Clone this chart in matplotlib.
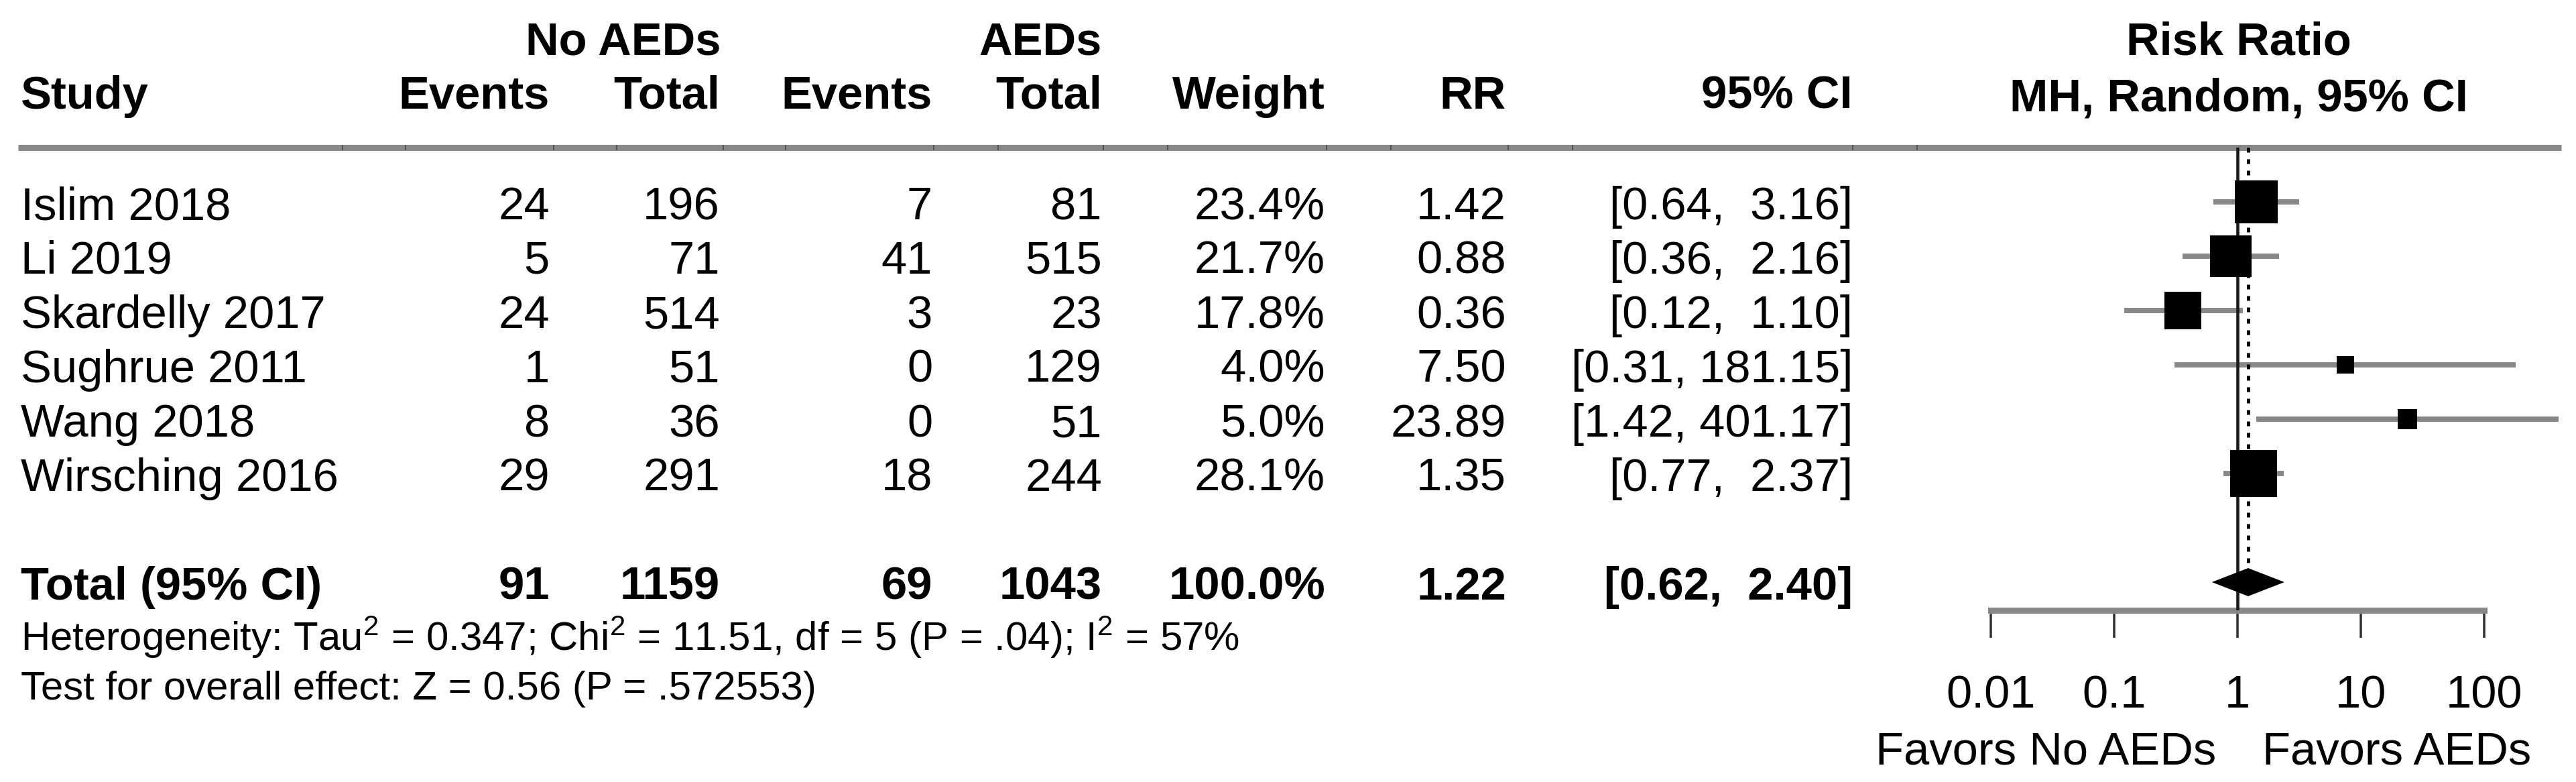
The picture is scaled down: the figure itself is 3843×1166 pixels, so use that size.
import matplotlib.pyplot as plt
import numpy as np
from matplotlib.ticker import NullLocator

plt.rcParams['font.family'] = ['Liberation Sans', 'DejaVu Sans']
plt.rcParams['mathtext.fontset'] = 'custom'
plt.rcParams['mathtext.rm'] = 'Liberation Sans'
plt.rcParams['mathtext.it'] = 'Liberation Sans:italic'
plt.rcParams['mathtext.bf'] = 'Liberation Sans:bold'

# data of the forest plot
studies = ["Islim 2018", "Li 2019", "Skardelly 2017", "Sughrue 2011", "Wang 2018", "Wirsching 2016"]
ev_no = [24, 5, 24, 1, 8, 29]
tot_no = [196, 71, 514, 51, 36, 291]
ev_aed = [7, 41, 3, 0, 0, 18]
tot_aed = [81, 515, 23, 129, 51, 244]
weight = [23.4, 21.7, 17.8, 4.0, 5.0, 28.1]
rr = [1.42, 0.88, 0.36, 7.50, 23.89, 1.35]
ci_lo = [0.64, 0.36, 0.12, 0.31, 1.42, 0.77]
ci_hi = [3.16, 2.16, 1.10, 181.15, 401.17, 2.37]

tot_label = "Total (95% CI)"
tot_counts = [91, 1159, 69, 1043]
tot_weight = 100.0
tot_rr, tot_lo, tot_hi = 1.22, 0.62, 2.40

het_text = "Heterogeneity: Tau$^{2}$ = 0.347; Chi$^{2}$ = 11.51, df = 5 (P = .04); I$^{2}$ = 57%"
test_text = "Test for overall effect: Z = 0.56 (P = .572553)"

col_names = ["Events", "Total", "Events", "Total", "Weight", "RR", "95% CI"]
ticks = [0.01, 0.1, 1, 10, 100]
tick_labels = ["0.01", "0.1", "1", "10", "100"]

def ci_str(lo, hi):
    h = f"{hi:.2f}"
    pad = " " if len(h) < 6 else ""
    return f"[{lo:.2f}, {pad}{h}]"

# layout (pixels)
W, H = 3843, 1166
row0, step = 301, 81
total_i = 7
fs = 16.5
fs_small = 14.4
col_right = [820, 1074, 1391, 1644, 1977, 2247, 2764]
seps = [511, 605, 826, 920, 1079, 1172, 1393, 1489, 1646, 1742, 1979, 2075, 2250, 2346, 2764, 2860]
gray = '#888888'

def row_y(i):
    return row0 + step * i

fig = plt.figure(figsize=(W / 300, H / 300), dpi=300)
ax = fig.add_axes([0, 0, 1, 1])
ax.set_xlim(0, W)
ax.set_ylim(H, 0)
ax.axis('off')

# headers
ax.text(1076, 81, "No AEDs", ha='right', va='baseline', weight='bold', fontsize=fs)
ax.text(1644, 81, "AEDs", ha='right', va='baseline', weight='bold', fontsize=fs)
ax.text(3340, 82, "Risk Ratio", ha='center', va='baseline', weight='bold', fontsize=fs)
ax.text(31, 162, "Study", ha='left', va='baseline', weight='bold', fontsize=fs)
for x, name in zip(col_right, col_names):
    ax.text(x, 162, name, ha='right', va='baseline', weight='bold', fontsize=fs)
ax.text(3340, 165, "MH, Random, 95% CI", ha='center', va='baseline', weight='bold', fontsize=fs)

ax.plot([27, 3821], [220, 220], color=gray, lw=2.2, solid_capstyle='butt')
ax.vlines(seps, 216, 224, color='#555555', lw=0.5)

# study rows
for i, s in enumerate(studies):
    y = row_y(i) + 26
    vals = [str(ev_no[i]), str(tot_no[i]), str(ev_aed[i]), str(tot_aed[i]),
            f"{weight[i]:.1f}%", f"{rr[i]:.2f}", ci_str(ci_lo[i], ci_hi[i])]
    ax.text(31, y, s, ha='left', va='baseline', fontsize=fs)
    for x, v in zip(col_right, vals):
        ax.text(x, y, v, ha='right', va='baseline', fontsize=fs)

# total row
y = row_y(total_i) + 26
vals = [str(v) for v in tot_counts] + [f"{tot_weight:.1f}%", f"{tot_rr:.2f}", ci_str(tot_lo, tot_hi)]
ax.text(31, y, tot_label, ha='left', va='baseline', weight='bold', fontsize=fs)
for x, v in zip(col_right, vals):
    ax.text(x, y, v, ha='right', va='baseline', weight='bold', fontsize=fs)

ax.text(31, 970, het_text, ha='left', va='baseline', fontsize=fs_small)
ax.text(31, 1043, test_text, ha='left', va='baseline', fontsize=fs_small)

# forest panel
top_px, bot_px = 220, 910
left_px, right_px = 2860, 3821
one_px, decade = 3338, 184
axf = fig.add_axes([left_px / W, 1 - bot_px / H, (right_px - left_px) / W, (bot_px - top_px) / H])
axf.set_xscale('log')
axf.set_xlim(10 ** ((left_px - one_px) / decade), 10 ** ((right_px - one_px) / decade))
ytop = (top_px - row0) / step
axf.set_ylim((bot_px - row0) / step, ytop)
axf.patch.set_alpha(0)

idx = np.arange(len(studies))
axf.hlines(idx, ci_lo, ci_hi, color=gray, lw=1.9, zorder=2)
axf.axvline(1, color='#1a1a1a', lw=1.1, zorder=3)
dh = 21 / step
axf.plot([tot_rr, tot_rr], [ytop, total_i - dh], color='black', lw=1.2,
         linestyle=(0, (1.4, 2.0)), zorder=3)
side_pt = 13.2 * np.sqrt(weight) * 72 / 300
axf.scatter(rr, idx, s=side_pt ** 2, marker='s', color='black', linewidths=0, zorder=4)
axf.fill([tot_lo, tot_rr, tot_hi, tot_rr], [total_i, total_i - dh, total_i, total_i + dh],
         color='black', lw=0, zorder=4)

for sp in ['top', 'left', 'right']:
    axf.spines[sp].set_visible(False)
axf.spines['bottom'].set_bounds(0.01, 100)
axf.spines['bottom'].set_color(gray)
axf.spines['bottom'].set_linewidth(2.2)
axf.set_xticks(ticks, tick_labels)
axf.xaxis.set_minor_locator(NullLocator())
axf.tick_params(axis='x', direction='out', length=9.8, width=0.85, color='#333333',
                pad=13, labelsize=fs)
axf.set_yticks([])

k = 72 / 300
axf.annotate("Favors No AEDs", xy=(1, 0), xycoords=('data', 'axes fraction'),
             xytext=(-32 * k, -(1139 - bot_px) * k), textcoords='offset points',
             ha='right', va='baseline', fontsize=fs)
axf.annotate("Favors AEDs", xy=(1, 0), xycoords=('data', 'axes fraction'),
             xytext=(37 * k, -(1139 - bot_px) * k), textcoords='offset points',
             ha='left', va='baseline', fontsize=fs)

fig.savefig("out.png", dpi=300)
